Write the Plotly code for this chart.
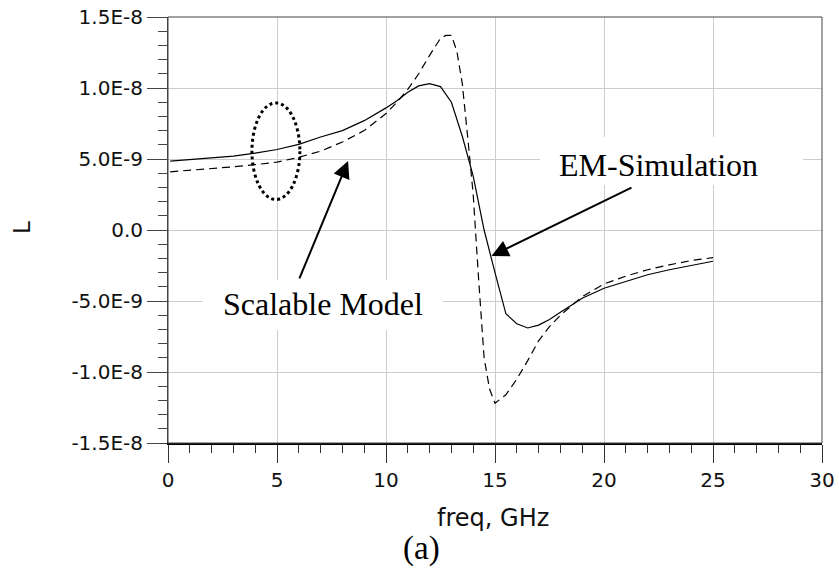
import plotly.graph_objects as go
import numpy as np

# ---- data (L in nH, converted to H below) ----
freq_em = [0.1, 1, 2, 3, 4, 5, 6, 7, 8, 9, 10, 10.5, 11, 11.5, 12, 12.5, 13, 13.5,
           14, 14.5, 15, 15.5, 16, 16.5, 17, 17.5, 18, 19, 20, 21, 22, 23, 24, 25]
L_em_nH = [4.85, 4.95, 5.07, 5.2, 5.42, 5.67, 6.03, 6.55, 7.0, 7.7, 8.6, 9.1, 9.7, 10.15,
           10.3, 10.1, 9.0, 6.6, 3.8, 0.0, -3.0, -5.9, -6.6, -6.9, -6.7, -6.3, -5.8, -4.8,
           -4.1, -3.6, -3.15, -2.8, -2.5, -2.2]

freq_model = [0.1, 1, 2, 3, 4, 5, 6, 7, 8, 9, 10, 10.5, 11, 11.5, 12, 12.5, 12.75, 13.0,
              13.25, 13.5, 13.75, 14, 14.25, 14.5, 14.75, 15, 15.5, 16, 16.5, 17, 17.5,
              18, 19, 20, 21, 22, 23, 24, 25]
L_model_nH = [4.1, 4.2, 4.3, 4.45, 4.6, 4.78, 5.12, 5.55, 6.2, 7.0, 8.2, 9.0, 9.9, 11.0,
              12.3, 13.5, 13.7, 13.7, 12.6, 10.3, 6.5, 2.5, -3.5, -9.0, -11.2, -12.2,
              -11.6, -10.5, -9.2, -7.8, -6.8, -6.0, -4.7, -3.8, -3.25, -2.8, -2.45,
              -2.15, -1.95]

y_tickvals = [-1.5e-8, -1.0e-8, -5.0e-9, 0.0, 5.0e-9, 1.0e-8, 1.5e-8]
y_ticktext = ["-1.5E-8", "-1.0E-8", "-5.0E-9", "0.0", "5.0E-9", "1.0E-8", "1.5E-8"]
x_tickvals = [0, 5, 10, 15, 20, 25, 30]
x_ticktext = ["0", "5", "10", "15", "20", "25", "30"]

L_em = np.array(L_em_nH) * 1e-9
L_model = np.array(L_model_nH) * 1e-9

SANS = "DejaVu Sans"
SERIF = "Liberation Serif, Times New Roman, serif"

fig = go.Figure()
fig.add_trace(go.Scatter(x=freq_em, y=L_em, mode="lines", name="EM-Simulation",
                         line=dict(color="black", width=1.2)))
fig.add_trace(go.Scatter(x=freq_model, y=L_model, mode="lines", name="Scalable Model",
                         line=dict(color="black", width=1.2, dash="8px,5px")))

fig.update_layout(
    width=839, height=576,
    margin=dict(l=168, r=17, t=17, b=133, autoexpand=False),
    paper_bgcolor="white", plot_bgcolor="white",
    showlegend=False,
    xaxis=dict(range=[0, 30], tickvals=x_tickvals, ticktext=x_ticktext, automargin=False,
               showgrid=True, gridcolor="#cccccc", gridwidth=1, zeroline=False,
               showline=True, linecolor="black", linewidth=2,
               ticks="outside", ticklen=18, tickwidth=1, tickcolor="#333",
               tickfont=dict(family=SANS, size=20, color="#111"),
               minor=dict(dtick=1, ticks="outside", ticklen=8, tickwidth=1,
                          tickcolor="#333", showgrid=False)),
    yaxis=dict(range=[-1.5e-8, 1.5e-8], tickvals=y_tickvals, ticktext=y_ticktext,
               automargin=False,
               showgrid=True, gridcolor="#cccccc", gridwidth=1, zeroline=False,
               showline=True, linecolor="#444", linewidth=1,
               ticks="outside", ticklen=20, tickwidth=1, tickcolor="#444",
               tickfont=dict(family=SANS, size=20, color="#111"),
               minor=dict(dtick=1e-9, ticks="outside", ticklen=9, tickwidth=1,
                          tickcolor="#444", showgrid=False)),
)

# frame (top/right borders)
fig.add_shape(type="rect", xref="x domain", yref="y domain", x0=0, x1=1, y0=0, y1=1,
              line=dict(color="#444", width=1), layer="above")

# white boxes behind the labels (hide gridlines)
fig.add_shape(type="rect", x0=17.06, x1=29.13, y0=3.17e-9, y1=6.55e-9,
              fillcolor="white", line=dict(width=0), layer="between")
fig.add_shape(type="rect", x0=1.6, x1=12.6, y0=-7.04e-9, y1=-3.52e-9,
              fillcolor="white", line=dict(width=0), layer="between")

# dotted ellipse
fig.add_shape(type="circle", x0=3.85, x1=6.05, y0=2.15e-9, y1=8.95e-9,
              line=dict(color="black", width=3, dash="dot"), layer="above")

# labels
fig.add_annotation(x=22.52, y=4.6e-9, text="EM-Simulation", showarrow=False,
                   font=dict(family=SERIF, size=32, color="black"))
fig.add_annotation(x=7.1, y=-5.2e-9, text="Scalable Model", showarrow=False,
                   font=dict(family=SERIF, size=32, color="black"))

# arrows
fig.add_annotation(x=14.84, y=-1.83e-9, ax=21.33, ay=3.03e-9, axref="x", ayref="y",
                   text="", showarrow=True, arrowhead=2, arrowsize=1.7, arrowwidth=2,
                   arrowcolor="black", standoff=0)
fig.add_annotation(x=8.26, y=4.86e-9, ax=6.0, ay=-3.52e-9, axref="x", ayref="y",
                   text="", showarrow=True, arrowhead=2, arrowsize=1.7, arrowwidth=2,
                   arrowcolor="black", standoff=0)

# axis titles
fig.add_annotation(xref="paper", yref="paper", x=(493 - 168) / 654, y=(443 - 518) / 426,
                   text="freq, GHz", showarrow=False, xanchor="center", yanchor="middle",
                   font=dict(family=SANS, size=24, color="#111"))
fig.add_annotation(xref="paper", yref="paper", x=(22 - 168) / 654, y=(443 - 228) / 426,
                   text="L", showarrow=False, textangle=-90, xanchor="center",
                   yanchor="middle", font=dict(family=SANS, size=23, color="#111"))
fig.add_annotation(xref="paper", yref="paper", x=(421 - 168) / 654, y=(443 - 548) / 426,
                   text="(a)", showarrow=False, xanchor="center", yanchor="middle",
                   font=dict(family=SERIF, size=33, color="black"))

fig.write_html("out.html")
